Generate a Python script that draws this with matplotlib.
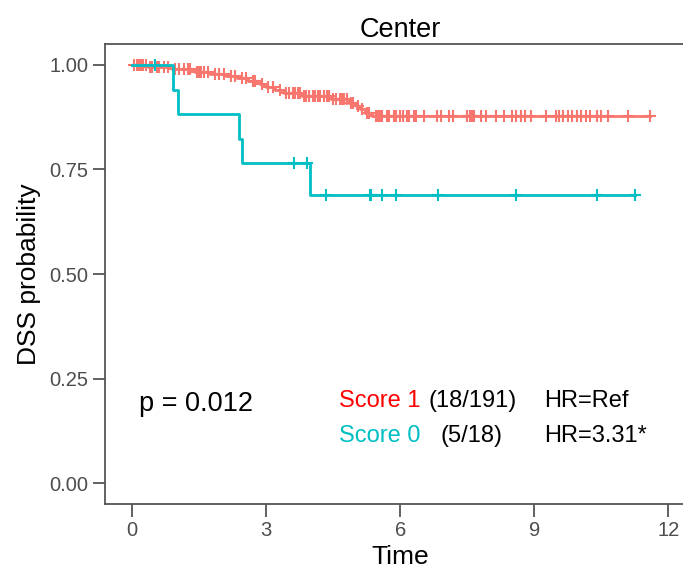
import numpy as np
import matplotlib
matplotlib.use("Agg")
import matplotlib.pyplot as plt

plt.rcParams['font.family'] = ['Liberation Sans', 'DejaVu Sans']

# Score 1 (red): event times and survival after each event
s1_event_t = [0.35, 0.9, 1.4, 1.75, 2.1, 2.35, 2.6, 2.85, 3.0, 3.2, 3.4, 3.8,
              4.45, 4.85, 5.0, 5.1, 5.2, 5.37]
s1_event_s = [0.995, 0.990, 0.984, 0.979, 0.974, 0.968, 0.962, 0.955, 0.948,
              0.940, 0.933, 0.926, 0.919, 0.910, 0.902, 0.894, 0.886, 0.877]
s1_censor_t = [0.05, 0.1, 0.15, 0.2, 0.25, 0.3, 0.4, 0.45, 0.55, 0.6, 0.7, 0.8,
               0.95, 1.05, 1.15, 1.25, 1.3, 1.45, 1.5, 1.55, 1.6, 1.7, 1.85,
               1.95, 2.05, 2.2, 2.3, 2.45, 2.55, 2.7, 2.75, 2.9, 3.05, 3.15,
               3.3, 3.45, 3.5, 3.6, 3.65, 3.7, 3.75, 3.85, 3.9, 3.95, 4.05,
               4.1, 4.15, 4.2, 4.3, 4.35, 4.4, 4.5, 4.55, 4.65, 4.7, 4.75, 4.8,
               4.9, 4.95, 5.05, 5.15, 5.25, 5.3, 5.45, 5.5, 5.55, 5.6, 5.7,
               5.75, 5.85, 5.9, 6.0, 6.05, 6.15, 6.2, 6.3, 6.35, 6.53, 6.83,
               6.91, 7.09, 7.17, 7.5, 7.55, 7.6, 7.65, 7.8, 7.91, 8.14, 8.32,
               8.51, 8.6, 8.7, 8.8, 8.92, 9.26, 9.48, 9.55, 9.65, 9.75, 9.85,
               9.95, 10.05, 10.15, 10.25, 10.4, 10.5, 10.64, 11.09, 11.6]

# Score 0 (cyan)
s0_event_t = [0.92, 1.03, 2.38, 2.45, 3.99]
s0_event_s = [0.941, 0.882, 0.824, 0.765, 0.690]
s0_censor_t = [0.52, 3.61, 3.92, 4.33, 5.32, 5.35, 5.58, 5.90, 6.84, 8.59,
               10.40, 11.25]

red = '#F8766D'
cyan = '#00BFC4'


def km_curve(ax, ev_t, ev_s, cens_t, color):
    t = np.concatenate([[0.0], ev_t, [max(cens_t)]])
    s = np.concatenate([[1.0], ev_s, [ev_s[-1]]])
    ax.step(t, s, where='post', color=color, lw=2.0, zorder=3)
    idx = np.searchsorted(ev_t, cens_t, side='right')
    cs = np.concatenate([[1.0], ev_s])[idx]
    ax.plot(cens_t, cs, ls='none', marker='|', ms=8, mew=1.5, color=color, zorder=3)
    ax.plot(cens_t, cs, ls='none', marker='_', ms=8, mew=1.5, color=color, zorder=3)


fig = plt.figure(figsize=(6.83, 5.68), dpi=100)
ax = fig.add_axes([105 / 683, 64 / 568, 591 / 683, 460 / 568])

km_curve(ax, s1_event_t, s1_event_s, s1_censor_t, red)
km_curve(ax, s0_event_t, s0_event_s, s0_censor_t, cyan)

ax.set_xlim(-0.61, 12.62)
ax.set_ylim(-0.05, 1.05)
ax.set_xticks([0, 3, 6, 9, 12])
ax.set_yticks([0, 0.25, 0.5, 0.75, 1.0])
ax.set_yticklabels(['0.00', '0.25', '0.50', '0.75', '1.00'])
ax.tick_params(length=9, width=1.3, color='#555555', labelcolor='#4D4D4D',
               labelsize=14.5, pad=3)
for sp in ax.spines.values():
    sp.set_color('#555555')
    sp.set_linewidth(1.3)

ax.set_title('Center', fontsize=19.5, pad=5)
ax.set_xlabel('Time', fontsize=19, labelpad=4)
ax.set_ylabel('DSS probability', fontsize=19, labelpad=6)

ax.text(0.14, 0.189, 'p = 0.012', ha='left', va='center', fontsize=19.5)
ax.text(4.62, 0.197, 'Score 1', color='#FF0000', ha='left', va='center', fontsize=17)
ax.text(6.64, 0.197, '(18/191)', ha='left', va='center', fontsize=17)
ax.text(9.23, 0.197, 'HR=Ref', ha='left', va='center', fontsize=17)
ax.text(4.62, 0.112, 'Score 0', color=cyan, ha='left', va='center', fontsize=17)
ax.text(6.89, 0.112, '(5/18)', ha='left', va='center', fontsize=17)
ax.text(9.23, 0.112, 'HR=3.31*', ha='left', va='center', fontsize=17)

fig.savefig('out.png', dpi=100)
